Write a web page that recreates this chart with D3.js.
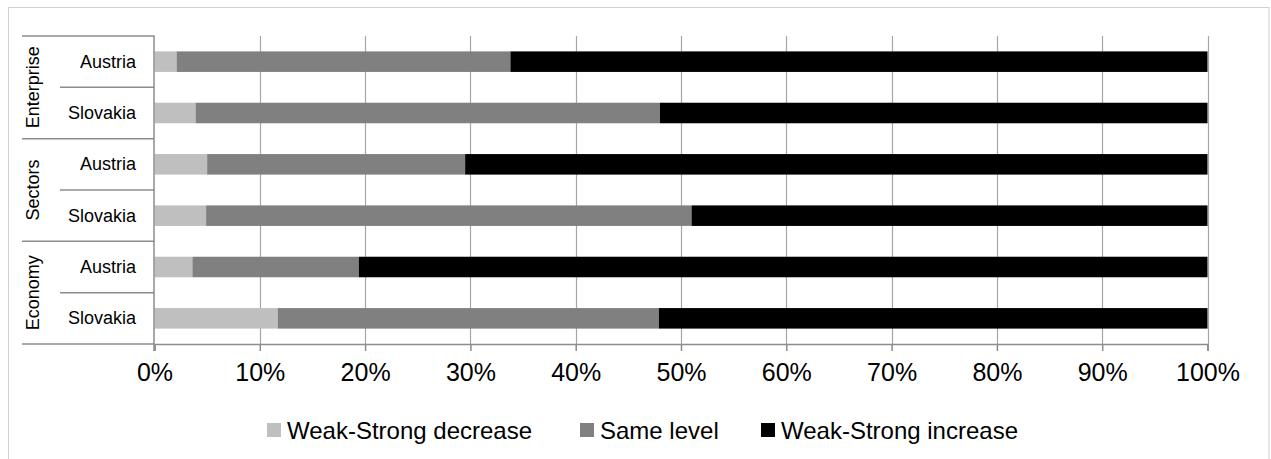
<!DOCTYPE html>
<html>
<head>
<meta charset="utf-8">
<script src="https://cdn.jsdelivr.net/npm/d3@7"></script>
<style>
  body { margin: 0; background: #fff; }
  svg { display: block; font-family: Arial, "Liberation Sans", sans-serif; }
</style>
</head>
<body>
<svg id="chart" width="1271" height="459"></svg>
<script>
// ---- data ----
const groups = ["Enterprise", "Sectors", "Economy"];
const countries = ["Austria", "Slovakia"];
const seriesNames = ["Weak-Strong decrease", "Same level", "Weak-Strong increase"];
const decrease = [2.1, 3.9, 5.0, 4.9, 3.6, 11.7];
const sameLevel = [31.7, 44.1, 24.5, 46.1, 15.8, 36.2];
const increase = [66.2, 52.0, 70.5, 49.0, 80.6, 52.1];
const tickValues = [0, 10, 20, 30, 40, 50, 60, 70, 80, 90, 100];
const colors = ["#bfbfbf", "#808080", "#000000"];

// ---- build rows ----
const rows = [];
groups.forEach((g, gi) => countries.forEach((c, ci) => {
  const i = gi * countries.length + ci;
  rows.push({ key: g + "|" + c, group: g, country: c, values: [decrease[i], sameLevel[i], increase[i]] });
}));

const svg = d3.select("#chart");
const plotLeft = 154.5, plotRight = 1207.5, plotTop = 36, plotBottom = 344;

// outer frame
svg.append("rect").attr("x", 8.5).attr("y", 7.5).attr("width", 1260.5).attr("height", 460)
  .attr("fill", "none").attr("stroke", "#d0d0d0").attr("stroke-width", 1);

const x = d3.scaleLinear().domain([0, 100]).range([plotLeft, plotRight]);
const y = d3.scaleBand().domain(rows.map(r => r.key)).range([plotTop, plotBottom])
  .paddingInner(0.6).paddingOuter(0.3);
const step = y.step();

// gridlines
svg.append("g").selectAll("line").data(tickValues.filter(v => v > 0)).join("line")
  .attr("x1", d => Math.round(x(d)) + 0.5).attr("x2", d => Math.round(x(d)) + 0.5)
  .attr("y1", plotTop).attr("y2", plotBottom)
  .attr("stroke", "#a6a6a6").attr("stroke-width", 1.2);

// stacked bars
const stackData = rows.map(r => {
  let acc = 0;
  return r.values.map((v, si) => { const s = { row: r.key, si, x0: acc, x1: acc + v }; acc += v; return s; });
}).flat();

svg.append("g").selectAll("rect").data(stackData).join("rect")
  .attr("x", d => x(d.x0))
  .attr("width", d => Math.max(0, x(Math.min(100, d.x1)) - x(d.x0)))
  .attr("y", d => y(d.row))
  .attr("height", y.bandwidth())
  .attr("fill", d => colors[d.si]);

// x axis
const xAxis = d3.axisBottom(x).tickValues(tickValues).tickFormat(d => d + "%").tickSize(7).tickPadding(12);
const gx = svg.append("g").attr("transform", `translate(0,${plotBottom})`).call(xAxis);
gx.select(".domain").attr("stroke", "#8c8c8c").attr("stroke-width", 1.5);
gx.selectAll(".tick line").attr("stroke", "#8c8c8c").attr("stroke-width", 1.5);
gx.selectAll(".tick text").attr("font-size", 25).attr("fill", "#000")
  .attr("font-family", 'Arial, "Liberation Sans", sans-serif');

// y axis line
svg.append("line").attr("x1", plotLeft - 0.5).attr("x2", plotLeft - 0.5)
  .attr("y1", plotTop).attr("y2", plotBottom + 7)
  .attr("stroke", "#8c8c8c").attr("stroke-width", 1.5);

// category separators (multi-level axis)
const sepG = svg.append("g").attr("stroke", "#8c8c8c").attr("stroke-width", 1.5);
const groupEdges = d3.range(groups.length + 1).map(i => plotTop + i * countries.length * step);
sepG.selectAll("line.outer").data(groupEdges).join("line").attr("class", "outer")
  .attr("x1", 22).attr("x2", plotLeft).attr("y1", d => d).attr("y2", d => d);
const innerEdges = [];
groups.forEach((g, gi) => { for (let c = 1; c < countries.length; c++) innerEdges.push(plotTop + (gi * countries.length + c) * step); });
sepG.selectAll("line.inner").data(innerEdges).join("line").attr("class", "inner")
  .attr("x1", 60).attr("x2", plotLeft).attr("y1", d => d).attr("y2", d => d);

// country labels
svg.append("g").selectAll("text").data(rows).join("text")
  .attr("x", 136).attr("y", d => y(d.key) + y.bandwidth() / 2)
  .attr("text-anchor", "end").attr("dominant-baseline", "central")
  .attr("font-size", 18).attr("fill", "#000").text(d => d.country);

// group labels (rotated)
svg.append("g").selectAll("text").data(groups).join("text")
  .attr("transform", (d, i) => `translate(33,${(groupEdges[i] + groupEdges[i + 1]) / 2}) rotate(-90)`)
  .attr("text-anchor", "middle").attr("dominant-baseline", "central")
  .attr("font-size", 18).attr("fill", "#000").text(d => d);

// legend
const legendX = [267, 580, 761];
const legendY = 430;
const lg = svg.append("g").selectAll("g").data(seriesNames).join("g")
  .attr("transform", (d, i) => `translate(${legendX[i]},${legendY})`);
lg.append("rect").attr("x", 0).attr("y", -7).attr("width", 14).attr("height", 14)
  .attr("fill", (d, i) => colors[i]);
lg.append("text").attr("x", 20).attr("y", 0).attr("dominant-baseline", "central")
  .attr("font-size", 24).attr("fill", "#000").text(d => d);
</script>
</body>
</html>
